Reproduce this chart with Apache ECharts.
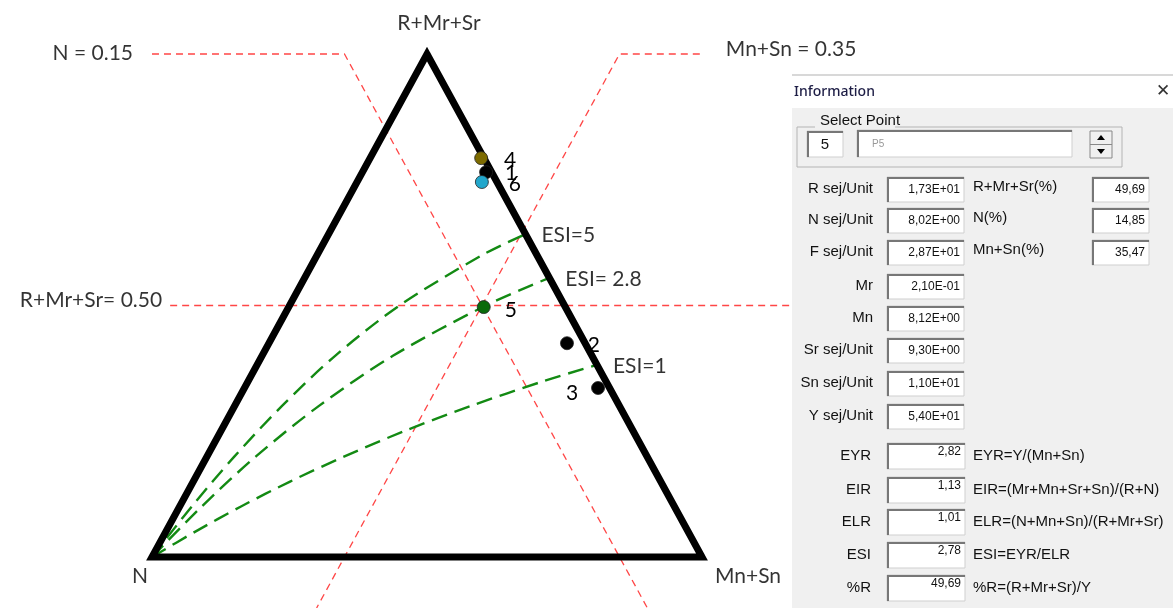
<!DOCTYPE html>
<html>
<head>
<meta charset="utf-8">
<script src="https://cdn.jsdelivr.net/npm/echarts@6/dist/echarts.min.js"></script>
<style>
  html, body { margin: 0; padding: 0; background: #fff; }
  #main { width: 1173px; height: 608px; }
</style>
</head>
<body>
<div id="main"></div>
<script>
// ---- data (ternary fractions: a = R+Mr+Sr, m = Mn+Sn, N = 1 - a - m) ----
var pointNames = ['1', '2', '3', '4', '5', '6'];
var pointRMrSr = [0.765, 0.425, 0.336, 0.793, 0.4969, 0.7455];
var pointMnSn  = [0.225, 0.542, 0.643, 0.202, 0.3547, 0.227];
var pointColors = ['#000000', '#000000', '#000000', '#7d6b00', '#0b6b0b', '#22a7cc'];

// ESI curves: [R+Mr+Sr, Mn+Sn]
var esi5Curve  = [[0, 0], [0.1, 0.022], [0.2, 0.05], [0.3, 0.086], [0.4, 0.133], [0.5, 0.2], [0.6, 0.3], [0.642, 0.358]];
var esi28Curve = [[0, 0], [0.1, 0.04], [0.2, 0.089], [0.3, 0.153], [0.4, 0.238], [0.5, 0.357], [0.555, 0.445]];
var esi1Curve  = [[0, 0], [0.05, 0.053], [0.1, 0.111], [0.15, 0.176], [0.2, 0.25], [0.25, 0.333], [0.3, 0.429], [0.35, 0.538], [0.382, 0.618]];
var esiLabels  = ['ESI=5', 'ESI= 2.8', 'ESI=1'];

// reference lines
var refN = 0.15, refMnSn = 0.35, refRMrSr = 0.50;

// information panel
var infoLabels  = ['R sej/Unit', 'N sej/Unit', 'F sej/Unit', 'Mr', 'Mn', 'Sr sej/Unit', 'Sn sej/Unit', 'Y sej/Unit'];
var infoValues  = ['1,73E+01', '8,02E+00', '2,87E+01', '2,10E-01', '8,12E+00', '9,30E+00', '1,10E+01', '5,40E+01'];
var pctLabels   = ['R+Mr+Sr(%)', 'N(%)', 'Mn+Sn(%)'];
var pctValues   = ['49,69', '14,85', '35,47'];
var idxLabels   = ['EYR', 'EIR', 'ELR', 'ESI', '%R'];
var idxValues   = ['2,82', '1,13', '1,01', '2,78', '49,69'];
var idxFormulas = ['EYR=Y/(Mn+Sn)', 'EIR=(Mr+Mn+Sr+Sn)/(R+N)', 'ELR=(N+Mn+Sn)/(R+Mr+Sr)', 'ESI=EYR/ELR', '%R=(R+Mr+Sr)/Y'];

// ternary -> cartesian (triangle N(0,0), Mn+Sn(1,0), R+Mr+Sr(0.5,1))
function tern(a, m) { return [m + a / 2, a]; }

var FONT = 'Lato, "Open Sans", sans-serif';
var TXT = '#000000';
var red = { color: '#ff4646', width: 1.3, type: [7, 5] };
var green = { color: '#138a13', width: 2.4, type: [16, 8] };
var BOTTOM = -0.1014;  // lower edge of the picture in triangle units

function refLine(data) {
    return { type: 'line', data: data, symbol: 'none', clip: false, silent: true, lineStyle: red, z: 1 };
}
function esiLine(curve) {
    return {
        type: 'line', smooth: 0.3, symbol: 'none', clip: false, silent: true, lineStyle: green, z: 2,
        data: curve.map(function (p) { return tern(p[0], p[1]); })
    };
}
function txt(pos, text, position, distance, offset) {
    return { value: pos, label: { show: true, position: position, distance: distance, offset: offset || [0, 0],
             formatter: text, color: TXT, fontSize: 21, fontFamily: FONT } };
}

var labelData = [
    txt(tern(1, 0), 'R+Mr+Sr', 'top', 20, [12, 0]),
    txt(tern(0, 0), 'N', 'bottom', 9, [-12, 0]),
    txt(tern(0, 1), 'Mn+Sn', 'bottom', 9, [46, 0]),
    txt([0, 1], 'N = 0.15', 'left', 19, [0, -1]),
    txt([0.996, 1], 'Mn+Sn = 0.35', 'right', 26, [0, -5]),
    txt([0.033, refRMrSr], 'R+Mr+Sr= 0.50', 'left', 8, [0, -5])
];
[esi5Curve, esi28Curve, esi1Curve].forEach(function (c, i) {
    var e = c[c.length - 1];
    labelData.push(txt(tern(e[0], e[1]), esiLabels[i], 'right', 16, [0, 1]));
});

var pointLabelPos = {
    '1': ['right', 12, [0, 1]], '2': ['right', 14, [0, 2]], '3': ['left', 13, [0, 5]],
    '4': ['right', 16, [0, 2]], '5': ['right', 14, [0, 3]], '6': ['right', 20, [0, 2]]
};
var pointData = pointNames.map(function (name, i) {
    var lp = pointLabelPos[name];
    return {
        value: tern(pointRMrSr[i], pointMnSn[i]),
        itemStyle: { color: pointColors[i], borderColor: '#222', borderWidth: 0.8, opacity: 1 },
        label: { show: true, formatter: name, position: lp[0], distance: lp[1], offset: lp[2],
                 color: TXT, fontSize: 21, fontFamily: FONT }
    };
});

// ---- information panel (Windows dialog) ----
var graphics = [];
function rect(x, y, w, h, fill, stroke, lw) {
    graphics.push({ type: 'rect', shape: { x: x, y: y, width: w, height: h },
                    style: { fill: fill, stroke: stroke || null, lineWidth: lw || 1 }, silent: true });
}
function text(x, y, s, font, color, align) {
    graphics.push({ type: 'text', x: x, y: y, silent: true,
                    style: { text: s, font: font, fill: color || '#111', textAlign: align || 'left', textVerticalAlign: 'middle' } });
}
function sunken(x, y, w, h) {
    rect(x, y, w, h, '#ffffff', '#cfcfcf', 1);
    graphics.push({ type: 'polyline', shape: { points: [[x + 1, y + h], [x + 1, y + 1], [x + w, y + 1]] },
                    style: { stroke: '#777', lineWidth: 2, fill: null }, silent: true });
}
var LBL = '15px "Liberation Sans", Arial, sans-serif';
var VAL = '12px "Liberation Sans", Arial, sans-serif';

rect(792, 74, 381, 2, '#d8d8d8');
rect(792, 76, 381, 32, '#ffffff');
rect(792, 108, 381, 500, '#f0f0f0');
text(794, 92, 'Information', '500 14px "Noto Sans", sans-serif', '#1d1d45');
text(1163, 92, '\u2715', '17px "DejaVu Sans", sans-serif', '#333', 'center');

// group box
rect(797, 127, 325, 40, null, '#b4b4b4', 1);
rect(815, 115, 80, 14, '#f0f0f0');
text(820, 121, 'Select Point', LBL, '#111');
sunken(807, 131, 36, 26);
text(825, 145, '5', LBL, '#111', 'center');
sunken(857, 130, 215, 27);
text(872, 144, 'P5', '10px "Liberation Sans", sans-serif', '#999');
rect(1090, 131, 22, 27, '#f0f0f0', '#888', 1);
graphics.push({ type: 'line', shape: { x1: 1090, y1: 144.5, x2: 1112, y2: 144.5 }, style: { stroke: '#888' }, silent: true });
graphics.push({ type: 'polygon', shape: { points: [[1097, 140], [1105, 140], [1101, 135]] }, style: { fill: '#000' }, silent: true });
graphics.push({ type: 'polygon', shape: { points: [[1097, 149], [1105, 149], [1101, 154]] }, style: { fill: '#000' }, silent: true });

var infoY = [189, 220, 252, 286, 318, 350, 383, 416];
infoLabels.forEach(function (s, i) {
    text(873, infoY[i], s, LBL, '#111', 'right');
    sunken(887, infoY[i] - 12, 77, 25);
    text(960, infoY[i] + 1, infoValues[i], VAL, '#111', 'right');
});
pctLabels.forEach(function (s, i) {
    text(973, infoY[i] - 2, s, LBL, '#111');
    sunken(1092, infoY[i] - 12, 57, 25);
    text(1145, infoY[i] + 1, pctValues[i], VAL, '#111', 'right');
});
var idxY = [456, 490, 522, 555, 588];
idxLabels.forEach(function (s, i) {
    text(871, idxY[i], s, LBL, '#111', 'right');
    sunken(887, idxY[i] - 13, 78, 26);
    text(961, idxY[i] - 4, idxValues[i], VAL, '#111', 'right');
    text(973, idxY[i], idxFormulas[i], LBL, '#111');
});

var option = {
    animation: false,
    backgroundColor: '#ffffff',
    grid: { left: 0, right: 0, top: 0, bottom: 0 },
    xAxis: { type: 'value', min: -0.27636, max: 1.85636, show: false },
    yAxis: { type: 'value', min: -0.10139, max: 1.10736, show: false },
    graphic: graphics,
    series: [
        // red reference lines with their label leaders
        refLine([[0, 1], tern(1, -refN), tern(BOTTOM, 1 - refN - BOTTOM)]),
        refLine([[0.996, 1], tern(1, refMnSn), tern(BOTTOM, refMnSn)]),
        refLine([[0.033, refRMrSr], [1.16, refRMrSr]]),
        // ESI curves
        esiLine(esi5Curve),
        esiLine(esi28Curve),
        esiLine(esi1Curve),
        // triangle frame
        {
            type: 'line', symbol: 'none', clip: false, silent: true, z: 3,
            lineStyle: { color: '#000', width: 7, join: 'miter', miterLimit: 10 },
            data: [tern(0, 1), tern(1, 0), tern(0, 0), tern(0, 1), tern(1, 0)]
        },
        // sample points
        { type: 'scatter', symbolSize: 13, z: 5, silent: true, data: pointData },
        // text annotations
        { type: 'scatter', symbolSize: 0, z: 6, silent: true, data: labelData }
    ]
};

var chart = echarts.init(document.getElementById('main'));
chart.setOption(option);
</script>
</body>
</html>
